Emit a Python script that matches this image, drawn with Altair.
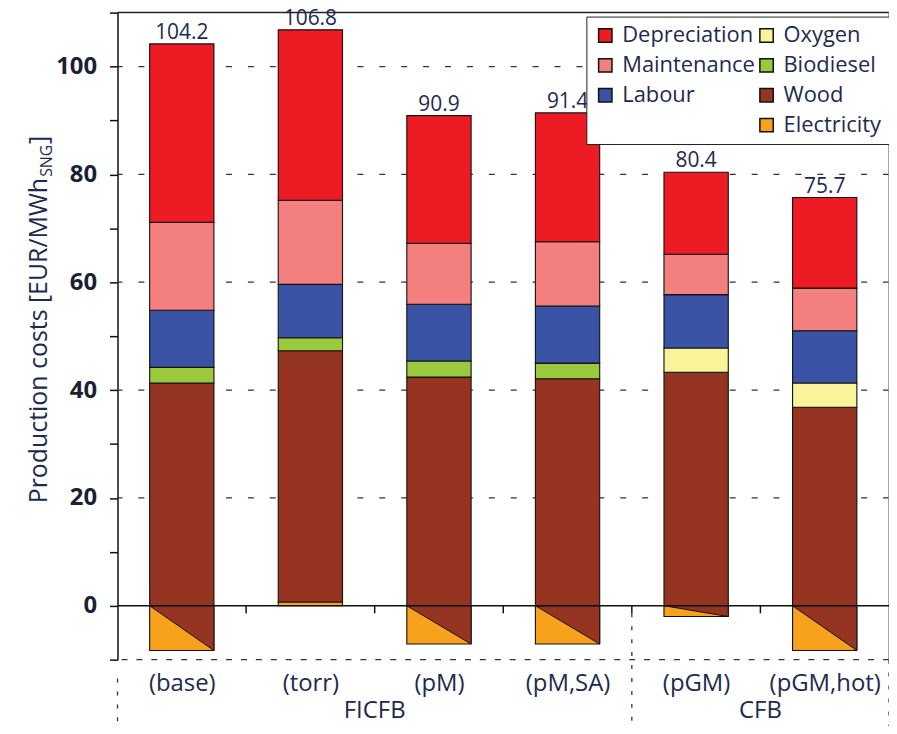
import altair as alt
import pandas as pd

# ---------------- data ----------------
categories = ["(base)", "(torr)", "(pM)", "(pM,SA)", "(pGM)", "(pGM,hot)"]
group_names = ["FICFB", "CFB"]
group_centers = [1.5, 4.5]          # centre of each group of categories (index units)
group_bounds = [-0.5, 3.5, 5.5]     # boundaries between groups

electricity = [-8.3, 0.7, -7.1, -7.1, -2.0, -8.3]
wood = [41.3, 46.6, 42.4, 42.1, 43.3, 36.8]
oxygen = [0.0, 0.0, 0.0, 0.0, 4.5, 4.5]
biodiesel = [2.9, 2.4, 3.0, 2.9, 0.0, 0.0]
labour = [10.6, 9.9, 10.5, 10.6, 9.9, 9.7]
maintenance = [16.3, 15.6, 11.3, 11.9, 7.5, 7.9]
depreciation = [33.1, 31.6, 23.7, 23.9, 15.2, 16.8]
totals = ["104.2", "106.8", "90.9", "91.4", "80.4", "75.7"]

stack_order = ["Electricity", "Wood", "Oxygen", "Biodiesel", "Labour", "Maintenance", "Depreciation"]
series = {
    "Electricity": electricity, "Wood": wood, "Oxygen": oxygen, "Biodiesel": biodiesel,
    "Labour": labour, "Maintenance": maintenance, "Depreciation": depreciation,
}
# legend is filled column by column (4 rows x 2 columns)
legend_order = ["Depreciation", "Maintenance", "Labour", "_blank", "Oxygen", "Biodiesel", "Wood", "Electricity"]
legend_colors = ["#ED1C24", "#F47F7F", "#3A53A4", "#FFFFFF", "#F9F39A", "#9AC93D", "#953421", "#F7A11C"]
legend_strokes = ["#111", "#111", "#111", "#FFFFFF", "#111", "#111", "#111", "#111"]

grid_values = [20, 40, 60, 80, 100]
y_ticks = list(range(-10, 111, 10))

title_parts = ["Production costs [EUR/MWh", "SNG", "]"]

# ---------------- tables ----------------
rows = []
for i, cat in enumerate(categories):
    for k, comp in enumerate(stack_order):
        v = series[comp][i]
        if v != 0:
            rows.append({"i": i, "cat": cat, "comp": comp, "order": k, "value": v})
bars_df = pd.DataFrame(rows)

HALF = 0.25
tri_rows = []
for i, v in enumerate(electricity):
    if v < 0:
        tri_rows.append({"i": i, "x": i - HALF, "y": 0.0})
        tri_rows.append({"i": i, "x": i + HALF, "y": v})
tri_df = pd.DataFrame(tri_rows)

tot_df = pd.DataFrame({"i": list(range(len(categories))),
                       "top": [sum(series[c][i] for c in stack_order if series[c][i] > 0) for i in range(len(categories))],
                       "label": totals})

FONT = "Open Sans"
TXT = "#1d2a4f"

xscale = alt.Scale(domain=[-0.5, 5.5], nice=False, zero=False)
yscale = alt.Scale(domain=[-10, 110], nice=False, zero=False)

label_js = "[" + ",".join("'" + c + "'" for c in categories) + "]"

legend_spec = alt.Legend(
    title=None, orient="none", legendX=471, legendY=4, columns=2,
    symbolType="square", symbolSize=180, symbolStrokeWidth=1.5, symbolOpacity=1,
    labelFont=FONT, labelFontSize=22, labelColor=TXT,
    labelExpr="datum.value == '_blank' ? '' : datum.label",
    labelOffset=6, rowPadding=8, columnPadding=0, padding=8,
    strokeColor="#222", fillColor="white",
)

# ---------------- layers ----------------
grid = alt.Chart(pd.DataFrame({"y": grid_values})).mark_rule(
    color="#333", strokeWidth=1.3, strokeDash=[6, 16]
).encode(y=alt.Y("y:Q", scale=yscale, axis=None))

bottom = alt.Chart(pd.DataFrame({"y": [-10]})).mark_rule(
    color="#333", strokeWidth=1.3, strokeDash=[6, 9]
).encode(y=alt.Y("y:Q", scale=yscale, axis=None))

top = alt.Chart(pd.DataFrame({"y": [110]})).mark_rule(
    color="#222", strokeWidth=1.5
).encode(y=alt.Y("y:Q", scale=yscale, axis=None))

right = alt.Chart(pd.DataFrame({"x": [5.5]})).mark_rule(
    color="#888", strokeWidth=1.5
).encode(x=alt.X("x:Q", scale=xscale, axis=None))

bars = alt.Chart(bars_df).transform_stack(
    stack="value", groupby=["i"], sort=[alt.SortField("order")], as_=["y0", "y1"]
).transform_calculate(
    x0=f"datum.i - {HALF}", x1=f"datum.i + {HALF}"
).mark_rect(strokeWidth=1.1).encode(
    x=alt.X("x0:Q", scale=xscale, axis=alt.Axis(
        values=list(range(len(categories))),
        labelExpr=f"{label_js}[datum.value]",
        domain=False, ticks=False, grid=False, title=None,
        labelFont=FONT, labelFontSize=24, labelColor=TXT, labelPadding=12,
    )),
    x2="x1:Q",
    y=alt.Y("y0:Q", scale=yscale, axis=alt.Axis(
        values=y_ticks,
        labelExpr="(datum.value >= 0 && datum.value <= 100 && datum.value % 20 == 0) ? datum.label : ''",
        tickSize=8, tickWidth=1.5, tickColor="#111", domainColor="#111", domainWidth=1.5,
        grid=False, title=None, labelFont=FONT, labelFontSize=24, labelFontWeight="bold",
        labelColor="#1a1f33", labelPadding=13,
    )),
    y2="y1:Q",
    color=alt.Color("comp:N", scale=alt.Scale(domain=legend_order, range=legend_colors),
                    legend=legend_spec),
    stroke=alt.Stroke("comp:N", scale=alt.Scale(domain=legend_order, range=legend_strokes),
                      legend=legend_spec),
)

tri = alt.Chart(tri_df).mark_area(fill="#953421", stroke="#111", strokeWidth=1.0).encode(
    x=alt.X("x:Q", scale=xscale, axis=None),
    y=alt.Y("y:Q", scale=yscale, axis=None),
    y2=alt.datum(0),
    detail="i:N",
)

zero = alt.Chart(pd.DataFrame({"y": [0]})).mark_rule(color="#111", strokeWidth=1.3).encode(
    y=alt.Y("y:Q", scale=yscale, axis=None))

ticks = alt.Chart(pd.DataFrame({"x": [0.5, 1.5, 2.5, 3.5, 4.5], "y0": [0] * 5, "y1": [-1.4] * 5})).mark_rule(
    color="#111", strokeWidth=1.5
).encode(x=alt.X("x:Q", scale=xscale, axis=None),
         y=alt.Y("y0:Q", scale=yscale, axis=None), y2="y1:Q")

seps = alt.Chart(pd.DataFrame({"x": group_bounds, "ys": [-13.5, -1.4, -10]})).mark_rule(
    color="#333", strokeWidth=1.3, strokeDash=[4, 9]
).encode(x=alt.X("x:Q", scale=xscale, axis=None),
         y=alt.Y("ys:Q", scale=yscale, axis=None), y2=alt.value(718))

tot_text = alt.Chart(tot_df).mark_text(
    baseline="bottom", dy=-1, font=FONT, fontSize=21, color=TXT
).encode(x=alt.X("i:Q", scale=xscale, axis=None),
         y=alt.Y("top:Q", scale=yscale, axis=None), text="label:N")

grp_text = alt.Chart(pd.DataFrame({"x": group_centers, "g": group_names})).mark_text(
    baseline="alphabetic", font=FONT, fontSize=24, color=TXT
).encode(x=alt.X("x:Q", scale=xscale, axis=None), y=alt.value(709), text="g:N")

t_main = alt.Chart(pd.DataFrame({"t": [title_parts[0]]})).mark_text(
    angle=270, align="right", baseline="alphabetic", font=FONT, fontSize=25, color=TXT
).encode(x=alt.value(-71), y=alt.value(166), text="t:N")
t_sub = alt.Chart(pd.DataFrame({"t": [title_parts[1]]})).mark_text(
    angle=270, align="left", baseline="alphabetic", font=FONT, fontSize=16, color=TXT
).encode(x=alt.value(-66), y=alt.value(165), text="t:N")
t_end = alt.Chart(pd.DataFrame({"t": [title_parts[2]]})).mark_text(
    angle=270, align="left", baseline="alphabetic", font=FONT, fontSize=25, color=TXT
).encode(x=alt.value(-71), y=alt.value(132), text="t:N")

chart = alt.layer(
    grid, bottom, top, right, bars, tri, zero, ticks, seps, tot_text, grp_text, t_main, t_sub, t_end
).resolve_axis(
    x="independent", y="independent"
).properties(
    width=775, height=650,
    autosize=alt.AutoSizeParams(type="none"),
    padding={"left": 110, "top": 3, "right": 0, "bottom": 65},
).configure_view(stroke=None)

chart.save("out.html", embed_options={"renderer": "svg", "actions": False})
